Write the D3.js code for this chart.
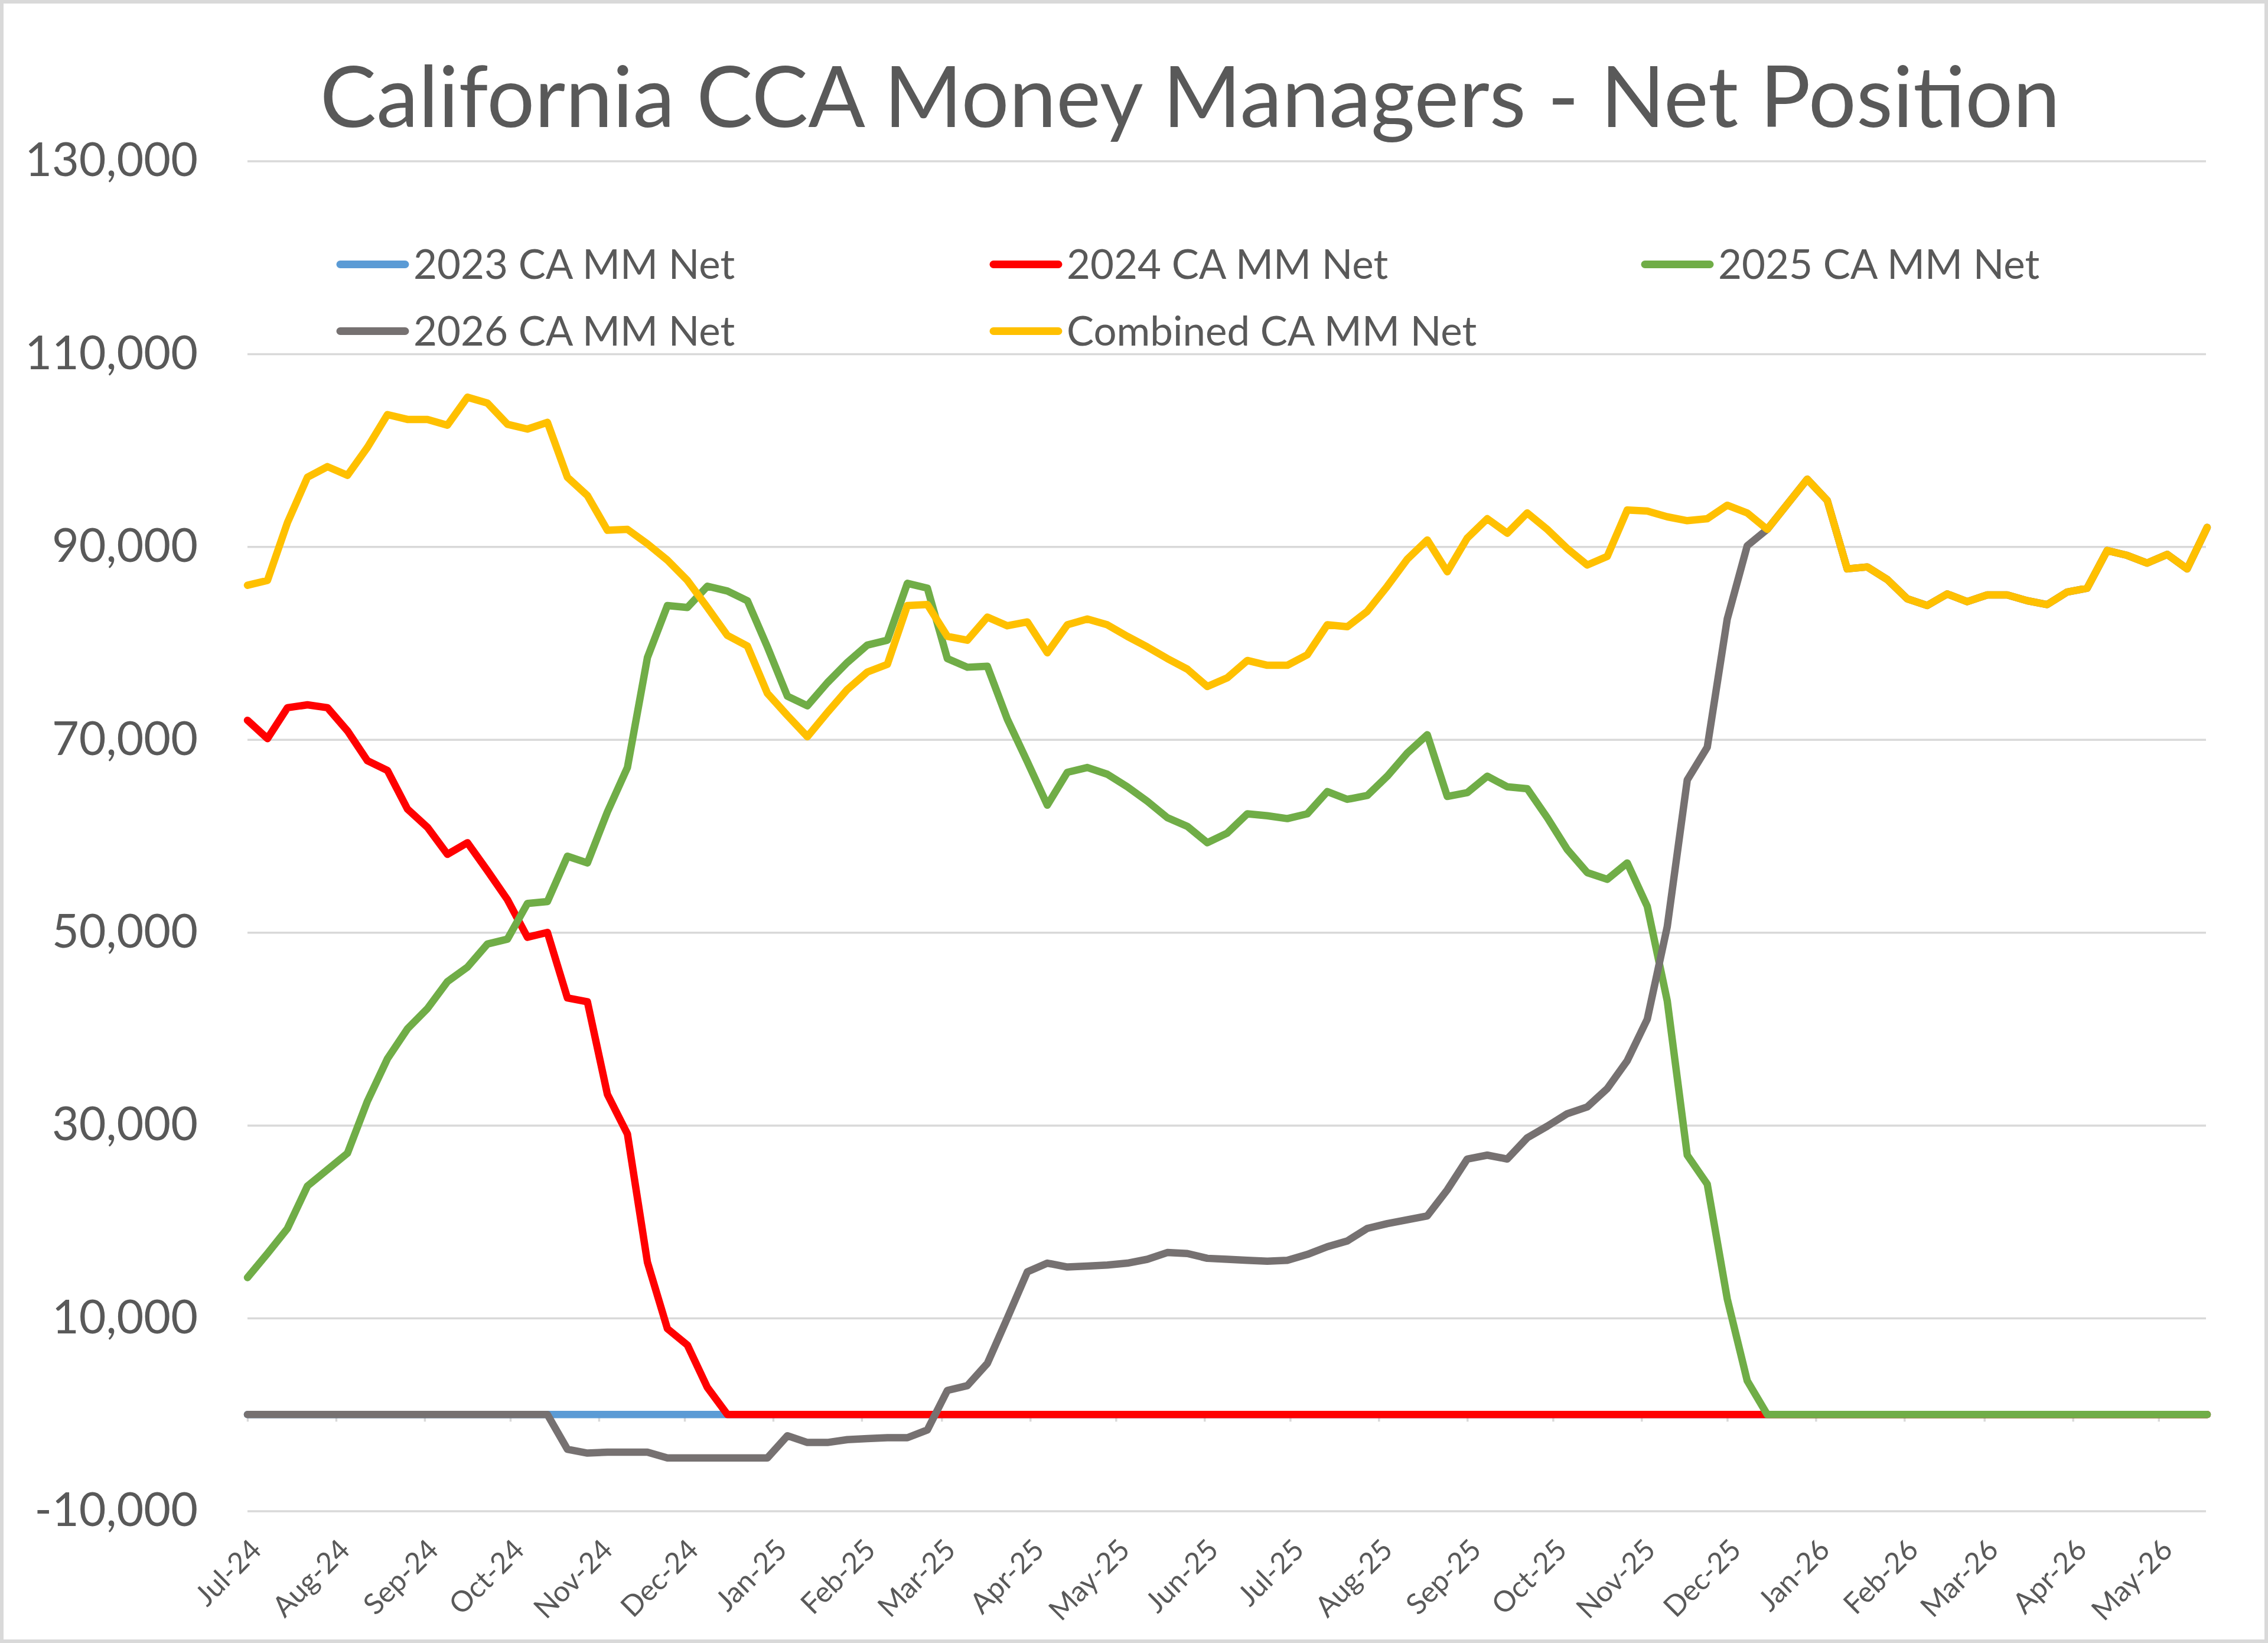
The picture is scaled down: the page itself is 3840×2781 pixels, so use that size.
<!DOCTYPE html>
<html>
<head>
<meta charset="utf-8">
<script src="https://cdn.jsdelivr.net/npm/d3@7"></script>
<style>
body { margin: 0; background: #fff; }
text { font-family: Lato, "Open Sans", sans-serif; fill: #595959; }
</style>
</head>
<body>
<div id="chart"></div>
<script>
// weekly net positions, first week starts 2 Jul 2024
var firstWeek = new Date(2024, 6, 2);

var mm2023 = [
    0, 0, 0, 0, 0, 0, 0, 0, 0, 0,
    0, 0, 0, 0, 0, 0, 0, 0, 0, 0,
    0, 0, 0, 0, 0, 0, 0, 0, 0, 0,
    0, 0, 0, 0, 0, 0, 0, 0, 0, 0,
    0, 0, 0, 0, 0, 0, 0, 0, 0, 0,
    0, 0, 0, 0, 0, 0, 0, 0, 0, 0,
    0, 0, 0, 0, 0, 0, 0, 0, 0, 0,
    0, 0, 0, 0, 0, 0, 0, 0, 0, 0,
    0, 0, 0, 0, 0, 0, 0, 0, 0, 0,
    0, 0, 0, 0, 0, 0, 0, 0, 0
];

var mm2024 = [
    72000, 70100, 73300, 73600, 73300, 70900, 67800, 66800, 62800, 60900,
    58100, 59300, 56400, 53400, 49500, 50000, 43200, 42800, 33200, 29100,
    15800, 8900, 7200, 2800, 0, 0, 0, 0, 0, 0,
    0, 0, 0, 0, 0, 0, 0, 0, 0, 0,
    0, 0, 0, 0, 0, 0, 0, 0, 0, 0,
    0, 0, 0, 0, 0, 0, 0, 0, 0, 0,
    0, 0, 0, 0, 0, 0, 0, 0, 0, 0,
    0, 0, 0, 0, 0, 0, 0, 0, 0, 0,
    0, 0, 0, 0, 0, 0, 0, 0, 0, 0,
    0, 0, 0, 0, 0, 0, 0, 0, 0
];

var mm2025 = [
    14200, 16700, 19300, 23700, 25400, 27100, 32500, 36900, 40000, 42100,
    44900, 46400, 48800, 49300, 53000, 53200, 57900, 57200, 62500, 67100,
    78500, 83900, 83700, 85900, 85400, 84400, 79600, 74500, 73500, 75900,
    78000, 79800, 80300, 86200, 85700, 78400, 77500, 77600, 72100, 67700,
    63200, 66600, 67100, 66400, 65100, 63600, 61900, 61000, 59300, 60300,
    62300, 62100, 61800, 62300, 64600, 63800, 64200, 66200, 68600, 70500,
    64100, 64500, 66200, 65100, 64900, 61900, 58600, 56200, 55500, 57200,
    52700, 42900, 26900, 23900, 12000, 3500, 0, 0, 0, 0,
    0, 0, 0, 0, 0, 0, 0, 0, 0, 0,
    0, 0, 0, 0, 0, 0, 0, 0, 0
];

var mm2026 = [
    0, 0, 0, 0, 0, 0, 0, 0, 0, 0,
    0, 0, 0, 0, 0, 0, -3600, -4000, -3900, -3900,
    -3900, -4500, -4500, -4500, -4500, -4500, -4500, -2200, -2900, -2900,
    -2600, -2500, -2400, -2400, -1600, 2500, 3000, 5300, 10000, 14800,
    15700, 15300, 15400, 15500, 15700, 16100, 16800, 16700, 16200, 16100,
    16000, 15900, 16000, 16600, 17400, 18000, 19300, 19800, 20200, 20600,
    23300, 26500, 26900, 26500, 28700, 29900, 31200, 31900, 33800, 36700,
    41000, 50600, 65800, 69200, 82500, 90100, 91800, 94400, 97000, 94800,
    87700, 87900, 86600, 84600, 83900, 85100, 84300, 85000, 85000, 84400,
    84000, 85300, 85700, 89600, 89100, 88300, 89200, 87700, 92000
];

var combined = [
    86000, 86500, 92500, 97200, 98300, 97400, 100300, 103700, 103200, 103200,
    102600, 105500, 104900, 102700, 102200, 102900, 97200, 95300, 91700, 91800,
    90300, 88600, 86500, 83700, 80800, 79700, 74800, 72500, 70300, 72800,
    75200, 77000, 77800, 83900, 84000, 80700, 80300, 82700, 81800, 82200,
    79000, 81900, 82500, 81900, 80700, 79600, 78400, 77300, 75500, 76400,
    78200, 77700, 77700, 78800, 81900, 81700, 83300, 85900, 88700, 90700,
    87400, 90900, 92900, 91400, 93500, 91800, 89800, 88100, 89000, 93800,
    93700, 93100, 92700, 92900, 94300, 93500, 91800, 94400, 97000, 94800,
    87700, 87900, 86600, 84600, 83900, 85100, 84300, 85000, 85000, 84400,
    84000, 85300, 85700, 89600, 89100, 88300, 89200, 87700, 92000
];

var seriesNames = ["2023 CA MM Net", "2024 CA MM Net", "2025 CA MM Net", "2026 CA MM Net", "Combined CA MM Net"];
var seriesColors = ["#5B9BD5", "#FF0000", "#70AD47", "#767171", "#FFC000"];
var yTicks = [-10000, 10000, 30000, 50000, 70000, 90000, 110000, 130000];

var dates = combined.map(function(d, i){ return d3.timeDay.offset(firstWeek, 7 * i); });
var monthTicks = d3.range(0, 23).map(function(k){ return d3.timeMonth.offset(firstWeek, k); });

var series = [mm2023, mm2024, mm2025, mm2026, combined].map(function(v, i){
    return {name: seriesNames[i], values: v, color: seriesColors[i]};
});

var w = 3840;
var h = 2781;
var plotLeft = 419, plotRight = 3737, plotTop = 272.5, plotBottom = 2557.5;

var svg = d3.select("div#chart")
    .append("svg")
    .attr("width", w)
    .attr("height", h);

// chart border
svg.append("rect")
    .attr("x", 3).attr("y", 3)
    .attr("width", w - 6).attr("height", h - 6)
    .attr("fill", "#fff")
    .attr("stroke", "#D9D9D9")
    .attr("stroke-width", 6);

var x = d3.scaleTime().domain([dates[0], dates[dates.length - 1]]).range([plotLeft, plotRight]);
var y = d3.scaleLinear().domain([-10000, 130000]).range([plotBottom, plotTop]);

var fmt = d3.formatLocale({decimal: ".", thousands: ",", grouping: [3], currency: ["$", ""], minus: "-"}).format(",");

// gridlines + y labels
var yAxis = svg.append("g")
    .attr("transform", "translate(" + plotLeft + ",0)")
    .call(d3.axisLeft(y).tickValues(yTicks).tickSize(-(plotRight - 2 - plotLeft)).tickPadding(84).tickFormat(fmt));
yAxis.select(".domain").remove();
yAxis.selectAll("line").attr("stroke", "#D9D9D9").attr("stroke-width", 3.5);
yAxis.selectAll("text")
    .attr("fill", "#595959")
    .style("font-family", "Lato")
    .style("font-size", "79px");

// horizontal axis through zero with month ticks
var zeroAxis = svg.append("g")
    .attr("transform", "translate(0," + y(0) + ")")
    .call(d3.axisBottom(x).tickValues(monthTicks).tickSize(12).tickSizeOuter(0).tickFormat(""));
zeroAxis.select(".domain").attr("stroke", "#D9D9D9").attr("stroke-width", 3.5);
zeroAxis.selectAll("line").attr("stroke", "#D9D9D9").attr("stroke-width", 3.5);

// month labels at the bottom
var xAxis = svg.append("g")
    .attr("transform", "translate(0," + plotBottom + ")")
    .call(d3.axisBottom(x).tickValues(monthTicks).tickSize(0).tickFormat(d3.timeFormat("%b-%y")));
xAxis.select(".domain").remove();
xAxis.selectAll("text")
    .attr("x", 0)
    .attr("y", 0)
    .attr("dy", null)
    .attr("text-anchor", "end")
    .attr("transform", "translate(26,69) rotate(-45)")
    .attr("fill", "#595959")
    .style("font-family", "Lato")
    .style("font-size", "49px");

var line = d3.line()
    .x(function(d, i){ return x(dates[i]); })
    .y(function(d){ return y(d); });

svg.append("g")
    .selectAll("path")
    .data(series)
    .enter()
    .append("path")
    .attr("d", function(d){ return line(d.values); })
    .attr("fill", "none")
    .attr("stroke", function(d){ return d.color; })
    .attr("stroke-width", 12.5)
    .attr("stroke-linejoin", "round")
    .attr("stroke-linecap", "round");

// title
svg.append("text")
    .attr("x", 2015)
    .attr("y", 215)
    .attr("text-anchor", "middle")
    .style("font-size", "143px")
    .text("California CCA Money Managers - Net Position");

// legend, 3 columns x 2 rows
var legendCols = [576, 1682, 2785];
var legendRows = [447.5, 560.5];

var legend = svg.append("g")
    .selectAll("g")
    .data(series)
    .enter()
    .append("g")
    .attr("transform", function(d, i){
        return "translate(" + legendCols[i % 3] + "," + legendRows[Math.floor(i / 3)] + ")";
    });

legend.append("line")
    .attr("x1", 0).attr("x2", 110)
    .attr("y1", 0).attr("y2", 0)
    .attr("stroke", function(d){ return d.color; })
    .attr("stroke-width", 13)
    .attr("stroke-linecap", "round");

legend.append("text")
    .attr("x", 124)
    .attr("y", 24)
    .style("font-size", "69px")
    .text(function(d){ return d.name; });
</script>
</body>
</html>
